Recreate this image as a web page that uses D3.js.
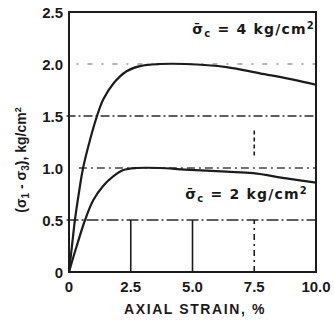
<!DOCTYPE html>
<html><head><meta charset="utf-8">
<script src="https://cdn.jsdelivr.net/npm/d3@7/dist/d3.min.js"></script>
<style>
body{margin:0;background:#fff;}
svg{display:block;}
text{font-family:"Liberation Sans",Arial,sans-serif;fill:#1a1a1a;}
</style></head>
<body>
<svg id="c" width="334" height="322"></svg>
<script>
// Data
const strain4 = [0,0.12,0.24,0.4,0.57,0.85,1.12,1.39,1.79,2.33,2.87,3.68,4.7,6.38,7.73,9.08,10];
const stress4 = [0,0.25,0.5,0.76,1.0,1.27,1.49,1.66,1.81,1.93,1.98,2.0,2.0,1.97,1.91,1.85,1.80];
const strain2 = [0,0.3,0.65,0.98,1.39,1.79,2.2,2.74,3.68,4.7,6.38,7.46,8.8,10];
const stress2 = [0,0.24,0.5,0.69,0.83,0.92,0.98,1.0,1.0,0.985,0.965,0.95,0.90,0.86];
const xTicks = [0,2.5,5,7.5,10];
const xTickLabels = ["0","2.5","5.0","7.5","10.0"];
const yTicks = [0,0.5,1.0,1.5,2.0,2.5];
const yTickLabels = ["0","0.5","1.0","1.5","2.0","2.5"];
const curveLabels = [{c:"4", v:2.0},{c:"2", v:1.0}];

const svg = d3.select("#c");
const x = d3.scaleLinear().domain([0,10]).range([69,316]);
const y = d3.scaleLinear().domain([0,2.5]).range([272,12]);
const ink = "#1c1c1c";

// horizontal reference lines
const hLines = [
  {v:2.0, x0:0.3, dash:"2,9,5,9", col:"#9a9a9a", w:1.3},
  {v:1.5, x0:-0.1, dash:"9,3,2,3", col:"#2a2a2a", w:1.6},
  {v:1.0, x0:0.4, dash:"8,4,2,4", col:"#444", w:1.5},
  {v:0.5, x0:-0.1, dash:"12,3,2,3", col:"#2a2a2a", w:1.6}
];
svg.append("g").selectAll("line").data(hLines).join("line")
  .attr("x1",d=>x(d.x0)).attr("x2",x(10))
  .attr("y1",d=>y(d.v)).attr("y2",d=>y(d.v))
  .attr("stroke",d=>d.col).attr("stroke-width",d=>d.w)
  .attr("stroke-dasharray",d=>d.dash);

// vertical reference lines
const vLines = [
  {v:2.5, y0:0, y1:0.5, dash:null},
  {v:5.0, y0:0, y1:0.5, dash:null},
  {v:7.5, y0:0, y1:0.5, dash:"6,4,2,4"},
  {v:7.5, y0:1.12, y1:1.36, dash:"4,3"}
];
svg.append("g").selectAll("line").data(vLines).join("line")
  .attr("x1",d=>x(d.v)).attr("x2",d=>x(d.v))
  .attr("y1",d=>y(d.y0)).attr("y2",d=>y(d.y1))
  .attr("stroke",ink).attr("stroke-width",1.6)
  .attr("stroke-dasharray",d=>d.dash);

// frame
svg.append("rect").attr("x",x(0)).attr("y",y(2.5))
  .attr("width",x(10)-x(0)).attr("height",y(0)-y(2.5))
  .attr("fill","none").attr("stroke",ink).attr("stroke-width",2);

// curves
const line = d3.line().x(d=>x(d[0])).y(d=>y(d[1])).curve(d3.curveCatmullRom.alpha(0.5));
[[strain4,stress4],[strain2,stress2]].forEach(([s,t])=>{
  svg.append("path").datum(s.map((v,i)=>[v,t[i]]))
    .attr("d",line).attr("fill","none").attr("stroke",ink)
    .attr("stroke-width",2.2).attr("stroke-linejoin","round");
});

// tick labels
svg.append("g").selectAll("text").data(xTicks).join("text")
  .attr("x",d=>x(d)).attr("y",y(0)+20).attr("text-anchor","middle")
  .style("font-size","15px").style("font-weight","bold")
  .text((d,i)=>xTickLabels[i]);
svg.append("g").selectAll("text").data(yTicks).join("text")
  .attr("x",x(0)-6).attr("y",d=>y(d)+6).attr("text-anchor","end")
  .style("font-size","15px").style("font-weight","bold")
  .text((d,i)=>yTickLabels[i]);

// axis titles
svg.append("text").attr("x",195).attr("y",314).attr("text-anchor","middle")
  .style("font-size","14px").style("font-weight","bold").style("letter-spacing","1.6px")
  .text("AXIAL STRAIN, %");

const yt = svg.append("text").attr("transform","translate(26,160) rotate(-90)")
  .attr("text-anchor","middle").style("font-size","14px").style("font-weight","bold");
yt.append("tspan").text("(σ");
yt.append("tspan").attr("dy",3).style("font-size","10px").text("1");
yt.append("tspan").attr("dy",-3).text(" - σ");
yt.append("tspan").attr("dy",3).style("font-size","10px").text("3");
yt.append("tspan").attr("dy",-3).text("), kg/cm");
yt.append("tspan").attr("dy",-5).style("font-size","9px").text("2");

// curve annotations
const ann = svg.append("g").selectAll("text").data(curveLabels).join("text")
  .attr("x",d=>d.v===2.0 ? x(10)-1 : x(10)-8).attr("y",d=>d.v===2.0 ? y(2.0)-30 : y(1.0)+31)
  .attr("text-anchor","end")
  .style("font-family","'DejaVu Sans',sans-serif")
  .style("font-size","14px").style("font-weight","bold").style("letter-spacing","1.2px");
ann.append("tspan").text("σ\u0304");
ann.append("tspan").attr("dy",3).style("font-size","10px").text("c");
ann.append("tspan").attr("dy",-3).text(d=>" = "+d.c+" kg/cm");
ann.append("tspan").attr("dy",-5).style("font-size","10px").text("2");
</script>
</body></html>
